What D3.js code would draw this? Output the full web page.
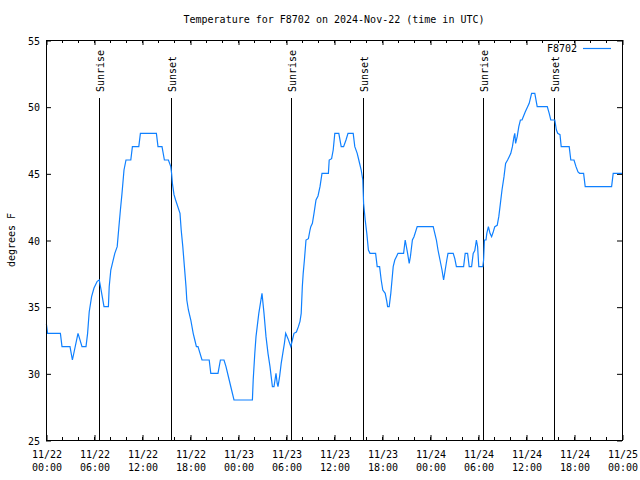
<!DOCTYPE html>
<html>
<head>
<meta charset="utf-8">
<script src="https://cdn.jsdelivr.net/npm/d3@7"></script>
<style>
  html, body { margin: 0; padding: 0; background: #fff; }
  svg { display: block; }
  text { font-family: "DejaVu Sans Mono", monospace; font-size: 10px; fill: #000; }
</style>
</head>
<body>
<svg id="chart" width="640" height="480"></svg>
<script>
// ---- data (hours since 2024-11-22 00:00 UTC, temperature in F) ----
const startTime = "2024-11-22T00:00:00Z";
const endTime = "2024-11-25T00:00:00Z";
const hours = [
  0.05, 0.2, 1.8, 2.0, 3.0, 3.3, 4.0, 4.2, 4.5, 5.0, 5.2, 5.4, 5.7, 6.0, 6.4, 6.66, 6.9, 7.25, 7.8, 7.9,
  8.1, 8.3, 8.6, 8.9, 9.1, 9.3, 9.5, 9.75, 10.0, 10.6, 10.8, 11.6, 11.8, 13.8, 14.0, 14.5, 14.8, 15.3, 15.6, 15.7,
  15.8, 16.0, 16.2, 16.75, 16.9, 17.1, 17.3, 17.5, 17.6, 17.8, 18.1, 18.4, 18.6, 18.8, 19.0, 19.5, 20.4, 20.6, 21.5, 21.8,
  22.25, 22.5, 22.9, 23.2, 23.5, 25.8, 25.9, 26.1, 26.25, 26.4, 26.6, 26.8, 27.0, 27.25, 27.5, 27.75, 28.0, 28.15, 28.3, 28.5,
  28.75, 28.9, 29.0, 29.2, 29.4, 29.6, 29.8, 29.96, 30.25, 30.6, 30.8, 31.0, 31.3, 31.55, 31.75, 31.9, 32.04, 32.15, 32.3, 32.5,
  32.8, 33.0, 33.1, 33.3, 33.5, 33.75, 34.0, 34.25, 34.5, 35.3, 35.4, 35.7, 35.9, 36.1, 36.6, 36.9, 37.2, 37.5, 37.75, 38.4,
  38.6, 38.9, 39.1, 39.4, 39.6, 39.7, 39.9, 40.1, 40.3, 40.5, 41.2, 41.4, 41.7, 41.9, 42.1, 42.4, 42.6, 42.7, 42.9, 43.1,
  43.25, 43.4, 43.6, 43.8, 44.0, 44.7, 44.9, 45.2, 45.4, 45.55, 45.8, 46.0, 46.4, 48.4, 48.6, 48.8, 49.0, 49.25, 49.5, 49.7,
  49.9, 50.1, 50.25, 50.9, 51.1, 51.3, 52.2, 52.4, 52.7, 52.9, 53.2, 53.4, 53.6, 53.8, 53.95, 54.1, 54.6, 54.7, 54.8, 55.0,
  55.1, 55.3, 55.4, 55.5, 55.7, 55.9, 56.1, 56.4, 56.6, 56.8, 57.0, 57.25, 57.45, 57.7, 57.9, 58.1, 58.3, 58.5, 58.6, 58.7,
  58.9, 59.1, 59.3, 59.5, 59.7, 59.9, 60.2, 60.4, 60.7, 61.1, 61.4, 62.66, 62.9, 63.1, 63.6, 63.8, 63.96, 64.25, 64.4, 65.4,
  65.6, 66.0, 66.25, 66.5, 66.7, 67.2, 67.4, 70.7, 70.9, 72.0
];
const temps = [
  33.7, 33, 33, 32, 32, 31, 33, 32.6, 32, 32, 33, 34.6, 35.75, 36.4, 36.9, 37, 36.2, 35, 35, 36.5,
  37.75, 38.25, 39, 39.5, 40.9, 42.25, 43.5, 45.25, 46, 46, 47, 47, 48, 48, 47, 47, 46, 46, 45.5, 45,
  44.25, 43.4, 43, 42, 40.75, 39.5, 38, 36.5, 35.5, 34.75, 34, 33, 32.5, 32, 32, 31, 31, 30, 30, 31,
  31, 30.5, 29.5, 28.75, 28, 28, 29.5, 31.5, 32.75, 33.5, 34.5, 35.25, 36, 34.5, 32.75, 31.5, 30.5, 29.75, 29, 29,
  30, 29.25, 29, 29.75, 30.75, 31.5, 32.25, 33, 32.6, 32, 32.5, 33, 33.1, 33.5, 33.9, 34.5, 36.5, 37.5, 38.5, 40,
  40.1, 40.75, 41, 41.25, 42, 43, 43.3, 44, 45, 45, 46, 46.1, 46.75, 48, 48, 47, 47, 47.5, 48, 48,
  47, 46.5, 46, 45.25, 44.5, 42.75, 41.5, 40.5, 39.25, 39, 39, 38, 38, 37, 36.25, 36, 35.4, 35, 35, 36,
  37, 38, 38.5, 38.75, 39, 39, 40, 39, 38.25, 38.75, 40, 40.25, 41, 41, 40.5, 40, 39.25, 38.5, 37.75, 37,
  37.75, 38.5, 39, 39, 38.6, 38, 38, 39, 39, 38, 38, 39, 39.2, 40, 39.5, 38, 38, 38.5, 40, 40,
  40.5, 41, 40.75, 40.5, 40.25, 40.6, 41, 41.1, 41.75, 42.75, 43.75, 44.75, 45.75, 46, 46.25, 46.5, 47, 47.75, 48, 47.25,
  47.75, 48.5, 49, 49, 49.3, 49.6, 50, 50.25, 51, 51, 50, 50, 49.5, 49, 49, 48.25, 48, 47.9, 47, 47,
  46, 46, 45.5, 45.1, 45, 45, 44, 44, 45, 45
];
const sunrises = ["2024-11-22T06:40:00Z", "2024-11-23T06:40:00Z", "2024-11-24T06:40:00Z"];
const sunsets = ["2024-11-22T15:40:00Z", "2024-11-23T15:40:00Z", "2024-11-24T15:33:00Z"];
const yTicks = [25, 30, 35, 40, 45, 50, 55];
const titleText = "Temperature for F8702 on 2024-Nov-22 (time in UTC)";
const yLabel = "degrees F";
const seriesName = "F8702";

// ---- layout ----
const svg = d3.select("#chart");
const L = 46, R = 622, T = 40, B = 440;
const t0 = new Date(startTime);
const x = d3.scaleUtc().domain([t0, new Date(endTime)]).range([L, R]);
const y = d3.scaleLinear().domain([25, 55]).range([B, T]);
const lineColor = "#0f80ff";

const data = hours.map((h, i) => ({ t: new Date(t0.getTime() + h * 3600000), v: temps[i] }));

// title
svg.append("text").attr("x", (L + R) / 2).attr("y", 23).attr("text-anchor", "middle").text(titleText);

// y axis label
svg.append("text").attr("transform", `translate(15,${(T + B) / 2}) rotate(-90)`)
  .attr("text-anchor", "middle").text(yLabel);

// minor x ticks (every 2h)
const minorTicks = x.ticks(d3.utcHour.every(2));
const majorTicks = x.ticks(d3.utcHour.every(6));
const gTicks = svg.append("g").attr("stroke", "#000").attr("stroke-width", 1);
minorTicks.forEach(d => {
  const px = Math.round(x(d)) + 0.5;
  gTicks.append("line").attr("x1", px).attr("x2", px).attr("y1", B).attr("y2", B - 3);
  gTicks.append("line").attr("x1", px).attr("x2", px).attr("y1", T).attr("y2", T + 3);
});

// x axis (bottom), inward ticks
const xAxis = svg.append("g").attr("transform", `translate(0.5,${B})`)
  .call(d3.axisBottom(x).tickValues(majorTicks).tickSizeInner(-5).tickSizeOuter(0).tickFormat(""));
xAxis.select(".domain").remove();
xAxis.selectAll(".tick").each(function(d) {
  const g = d3.select(this);
  const t = g.append("text").attr("text-anchor", "middle").attr("fill", "#000")
    .style("font-family", '"DejaVu Sans Mono", monospace').style("font-size", "10px");
  t.append("tspan").attr("x", 0).attr("y", 18).text(d3.utcFormat("%m/%d")(d));
  t.append("tspan").attr("x", 0).attr("y", 31).text(d3.utcFormat("%H:%M")(d));
});
// x axis top mirror
const xTop = svg.append("g").attr("transform", `translate(0.5,${T})`)
  .call(d3.axisTop(x).tickValues(majorTicks).tickSizeInner(-5).tickSizeOuter(0).tickFormat(""));
xTop.select(".domain").remove();

// y axis left
const yAxis = svg.append("g").attr("transform", `translate(${L},0.5)`)
  .call(d3.axisLeft(y).tickValues(yTicks).tickSizeInner(-5).tickSizeOuter(0).tickPadding(12)
    .tickFormat(d3.format("d")));
yAxis.select(".domain").remove();
yAxis.selectAll("text").attr("x", -6).attr("dy", "0.35em")
  .style("font-family", '"DejaVu Sans Mono", monospace').style("font-size", "10px");
// y axis right mirror
const yRight = svg.append("g").attr("transform", `translate(${R},0.5)`)
  .call(d3.axisRight(y).tickValues(yTicks).tickSizeInner(-5).tickSizeOuter(0).tickFormat(""));
yRight.select(".domain").remove();

// sunrise / sunset markers
const markers = sunrises.map(s => ({ t: new Date(s), label: "Sunrise" }))
  .concat(sunsets.map(s => ({ t: new Date(s), label: "Sunset" })));
markers.forEach(m => {
  const px = Math.round(x(m.t)) + 0.5;
  svg.append("line").attr("x1", px).attr("x2", px).attr("y1", 98).attr("y2", B)
    .attr("stroke", "#000").attr("stroke-width", 1);
  svg.append("text").attr("transform", `translate(${px + 4},92) rotate(-90)`)
    .attr("text-anchor", "start").text(m.label);
});

// data line
svg.append("path").datum(data)
  .attr("fill", "none").attr("stroke", lineColor).attr("stroke-width", 1.2)
  .attr("d", d3.line().x(d => x(d.t)).y(d => y(d.v)));

// border
svg.append("rect").attr("x", L + 0.5).attr("y", T + 0.5).attr("width", R - L).attr("height", B - T)
  .attr("fill", "none").attr("stroke", "#000").attr("stroke-width", 1);

// legend
svg.append("text").attr("x", 577).attr("y", 52).attr("text-anchor", "end").text(seriesName);
svg.append("line").attr("x1", 583).attr("x2", 611).attr("y1", 48.5).attr("y2", 48.5)
  .attr("stroke", lineColor).attr("stroke-width", 1.2);
</script>
</body>
</html>
